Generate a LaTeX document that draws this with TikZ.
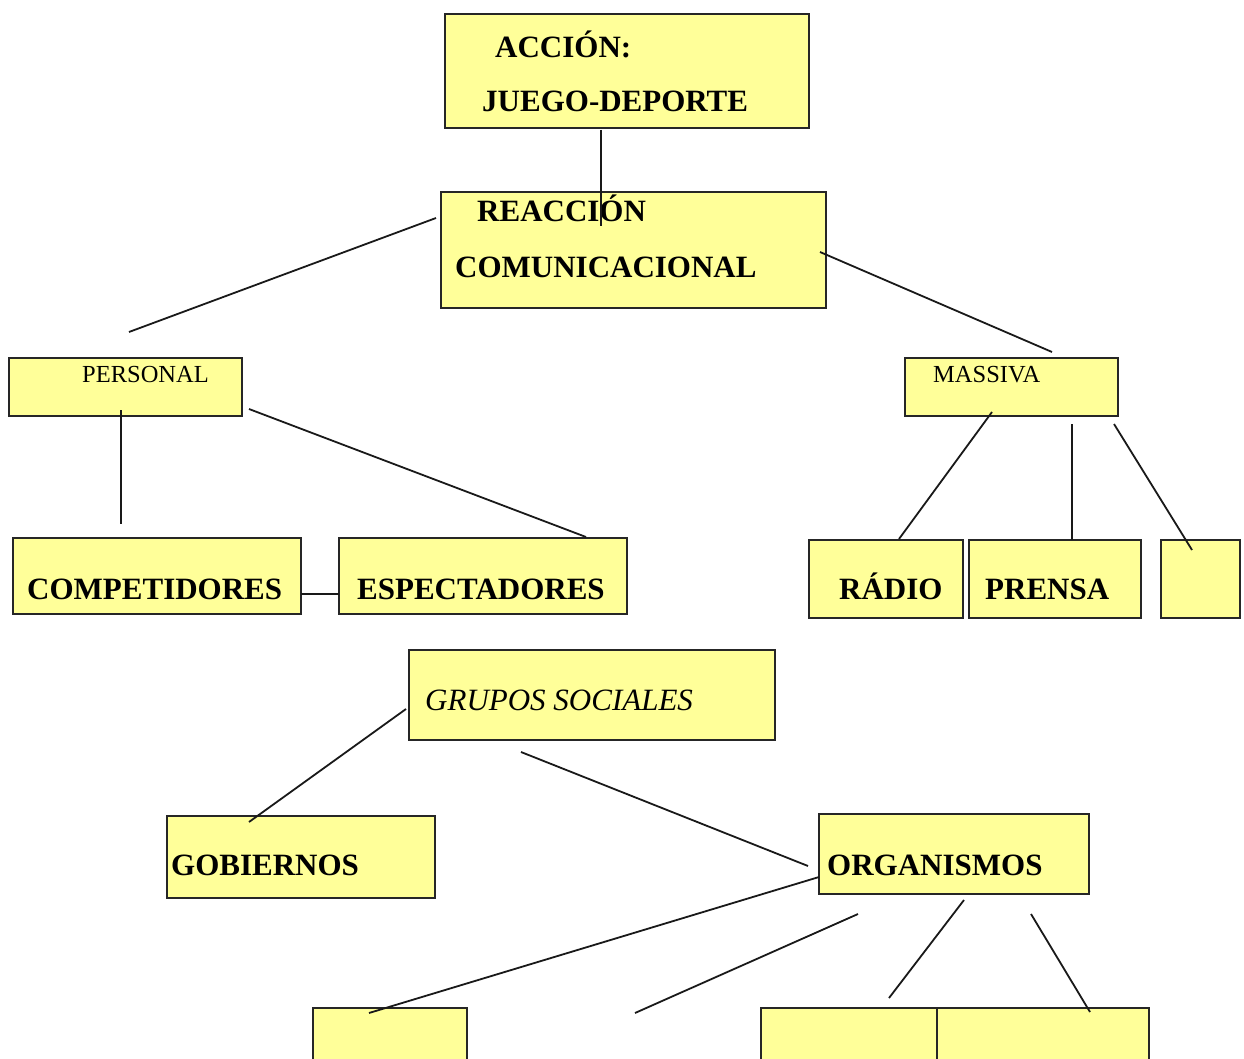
\documentclass[tikz,border=0pt]{standalone}
\usepackage{fontspec}
\setmainfont{Liberation Serif}
\definecolor{boxyellow}{HTML}{FFFF99}
\begin{document}
\begin{tikzpicture}[x=1pt,y=-1pt,
  box/.style={draw=black!85, fill=boxyellow, line width=1.8pt, inner sep=0pt, outer sep=0pt, rectangle},
  lbl/.style={anchor=base west, inner sep=0pt},
  big/.style={font=\fontsize{31}{31}\selectfont\bfseries},
  small/.style={font=\fontsize{24.5}{24.5}\selectfont},
  ital/.style={font=\fontsize{31}{31}\selectfont\itshape},
  conn/.style={line width=1.8pt, black!90}]
\useasboundingbox (0,0) rectangle (1244,1059);
% boxes (corner to corner)
\newcommand{\mybox}[5]{\node[box, minimum width={#4-#2}, minimum height={#5-#3}] (#1) at ({(#2+#4)/2},{(#3+#5)/2}) {};}
\mybox{accion}{445}{14}{809}{128}
\mybox{reaccion}{441}{192}{826}{308}
\mybox{personal}{9}{358}{242}{416}
\mybox{massiva}{905}{358}{1118}{416}
\mybox{compet}{13}{538}{301}{614}
\mybox{espect}{339}{538}{627}{614}
\mybox{radio}{809}{540}{963}{618}
\mybox{prensa}{969}{540}{1141}{618}
\mybox{vacio}{1161}{540}{1240}{618}
\mybox{grupos}{409}{650}{775}{740}
\mybox{gobiernos}{167}{816}{435}{898}
\mybox{organismos}{819}{814}{1089}{894}
\mybox{bajoa}{313}{1008}{467}{1080}
\mybox{bajob}{761}{1008}{953}{1080}
\mybox{bajoc}{937}{1008}{1149}{1080}
% texts
\node[lbl,big] (t1) at (495,58) {ACCIÓN:};
\node[lbl,big] (t2) at (482,112) {JUEGO-DEPORTE};
\node[lbl,big] (t3) at (477,222) {REACCIÓN};
\node[lbl,big] (t4) at (455,277) {COMUNICACIONAL};
\node[lbl,small] (t5) at (82,382) {PERSONAL};
\node[lbl,small] (t6) at (933,382) {MASSIVA};
\node[lbl,big] (t7) at (27,599) {COMPETIDORES};
\node[lbl,big] (t8) at (357,599) {ESPECTADORES};
\node[lbl,big] (t9) at (839,599) {RÁDIO};
\node[lbl,big] (t10) at (985,599) {PRENSA};
\node[lbl,ital] (t11) at (425,710) {GRUPOS SOCIALES};
\node[lbl,big] (t12) at (171,875) {GOBIERNOS};
\node[lbl,big] (t13) at (827,875) {ORGANISMOS};
% connector end points
\coordinate (c1a) at (601,130); \coordinate (c1b) at (601,226);
\coordinate (c2a) at (436,218); \coordinate (c2b) at (129,332);
\coordinate (c3a) at (820,252); \coordinate (c3b) at (1052,352);
\coordinate (c4a) at (121,410); \coordinate (c4b) at (121,524);
\coordinate (c5a) at (249,409); \coordinate (c5b) at (586,537);
\coordinate (c6a) at (301,594); \coordinate (c6b) at (339,594);
\coordinate (c7a) at (992,412); \coordinate (c7b) at (899,539);
\coordinate (c8a) at (1072,424); \coordinate (c8b) at (1072,540);
\coordinate (c9a) at (1114,424); \coordinate (c9b) at (1192,550);
\coordinate (c10a) at (406,709); \coordinate (c10b) at (249,822);
\coordinate (c11a) at (521,752); \coordinate (c11b) at (808,866);
\coordinate (c12a) at (819,877); \coordinate (c12b) at (369,1013);
\coordinate (c13a) at (858,914); \coordinate (c13b) at (635,1013);
\coordinate (c14a) at (964,900); \coordinate (c14b) at (889,998);
\coordinate (c15a) at (1031,914); \coordinate (c15b) at (1090,1012);
\foreach \i in {1,...,15} {\draw[conn] (c\i a) -- (c\i b);}
\end{tikzpicture}
\end{document}
